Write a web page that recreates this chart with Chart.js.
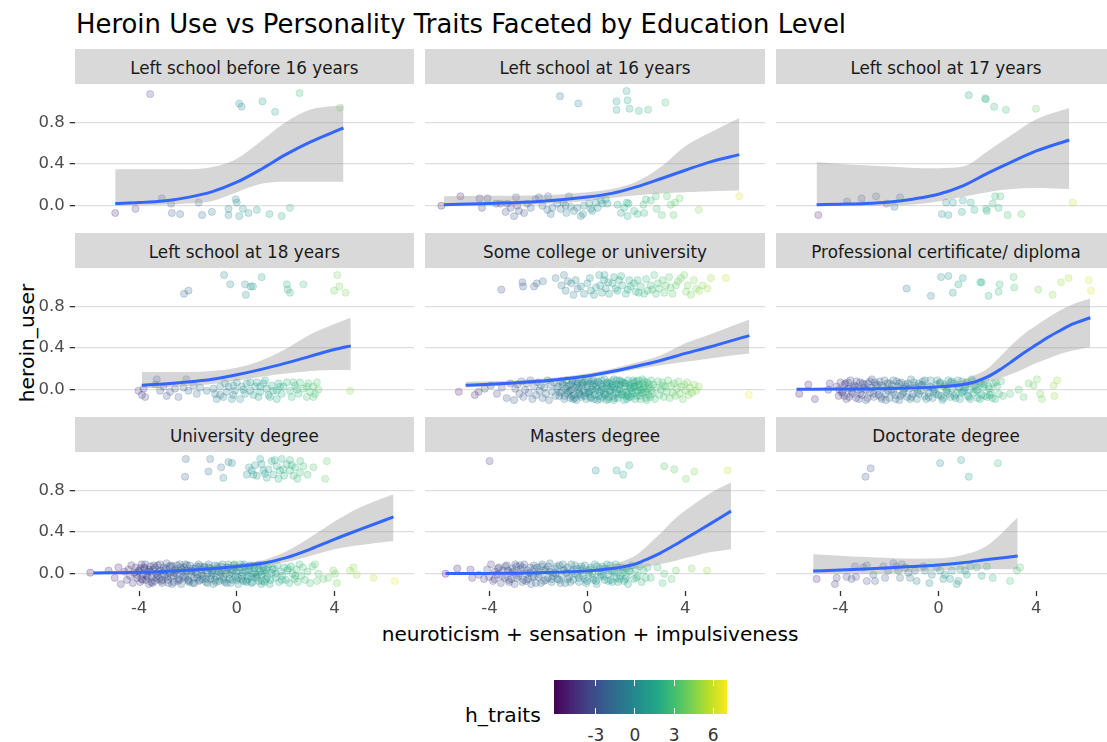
<!DOCTYPE html>
<html>
<head>
<meta charset="utf-8">
<title>Heroin Use vs Personality Traits</title>
<script src="https://cdn.jsdelivr.net/npm/chart.js@4.4.1/dist/chart.umd.min.js"></script>
<style>
  html, body { margin:0; padding:0; background:#fff; }
  body { width:1107px; height:742px; overflow:hidden; }
  #stage { position:relative; width:1107px; height:742px; overflow:hidden; font-family:"DejaVu Sans", sans-serif; }
  #stage canvas { position:absolute; }
  .txt { position:absolute; line-height:1; white-space:nowrap; }
  .strip { position:absolute; background:#d9d9d9; overflow:hidden; }
  .strip span { position:absolute; left:0; right:0; text-align:center; font-size:16.8px; line-height:1; color:#1a1a1a; white-space:nowrap; }
  .cbtick { position:absolute; width:1px; background:#fff; }
  .cblab { position:absolute; font-size:17px; line-height:1; color:#333; transform:translateX(-50%); }
</style>
</head>
<body>
<div id="stage">
  <div class="txt" style="left:76px; top:11.5px; font-size:25.9px; color:#000;">Heroin Use vs Personality Traits Faceted by Education Level</div>
  <div class="txt" style="left:590px; top:624px; font-size:20.1px; color:#000; transform:translateX(-50%);">neuroticism + sensation + impulsiveness</div>
  <div class="txt" style="left:26.5px; top:343px; font-size:20.3px; color:#000; transform:translate(-50%,-50%) rotate(-90deg);">heroin_user</div>
  <div class="txt" style="left:465px; top:704.5px; font-size:20.3px; color:#000;">h_traits</div>
  <div id="colorbar" style="position:absolute; left:554.3px; top:680px; width:172.4px; height:34px;"></div>
</div>
<script>
// ---------- facet labels, ticks, ranges ----------
const facetTitles = [
  "Left school before 16 years", "Left school at 16 years", "Left school at 17 years",
  "Left school at 18 years", "Some college or university", "Professional certificate/ diploma",
  "University degree", "Masters degree", "Doctorate degree"
];
const yTicks = [0, 0.4, 0.8];
const xTicks = [-4, 0, 4];
const colorTicks = [-3, 0, 3, 6];
const xRange = [-6.64, 7.26];
const yRange = [-0.166, 1.167];
const colorRange = [-6.19, 7.04];

// ---------- jittered observations [h_traits, heroin_user] ----------
const ptsBefore16 = [
[-3.55,1.07],[0.10,0.98],[0.20,0.95],[1.05,1.0],[1.57,0.9],[2.57,1.08],[4.23,0.94],
[-4.98,-0.07],[-4.15,-0.03],[-3.07,0.07],[-2.69,0.02],[-2.66,-0.07],[-2.32,-0.08],[-1.56,0.03],[-1.42,-0.09],[-1.02,-0.06],[-0.34,-0.03],[-0.34,-0.09],[-0.04,0.06],[0.0,0.03],[0.10,-0.1],[0.25,-0.03],[0.48,-0.07],[0.82,-0.04],[1.34,-0.08],[1.84,-0.1],[2.18,-0.02]
];
const ptsAt16 = [
[-1.12,1.05],[-0.37,0.98],[1.19,1.0],[1.19,0.92],[1.6,1.1],[1.64,1.01],[1.72,0.93],[2.1,0.91],[2.48,0.92],[3.19,0.99],
[-5.97,0.0],[-5.19,0.09],[-4.41,0.07],[-4.31,-0.02],[-4.08,0.07],[-3.73,0.02],[-3.55,0.02],[-3.34,-0.06],[-3.28,0.02],[-3.14,-0.02],[-3.0,-0.1],[-2.92,0.08],[-2.87,0.0],[-2.8,-0.05],[-2.59,-0.07],[-2.46,0.02],[-2.32,-0.02],[-2.12,0.06],[-1.98,0.08],[-1.84,0.0],[-1.64,-0.04],[-1.61,0.09],[-1.5,-0.08],[-1.43,-0.02],[-1.23,0.02],[-1.09,-0.03],[-0.98,0.03],[-0.89,0.0],[-0.86,-0.07],[-0.75,0.09],[-0.68,-0.01],[-0.55,-0.05],[-0.41,-0.02],[-0.27,-0.1],[-0.18,-0.08],[-0.14,0.0],[0.07,0.02],[0.14,-0.03],[0.2,-0.05],[0.34,0.03],[0.41,-0.02],[0.55,0.05],[0.61,0.02],[0.75,0.06],[0.82,0.02],[1.23,0.01],[1.37,-0.07],[1.5,-0.02],[1.61,0.03],[1.64,-0.1],[1.68,0.02],[1.91,-0.05],[2.05,-0.08],[2.29,0.01],[2.32,-0.07],[2.39,0.06],[2.59,0.05],[2.8,0.09],[2.83,-0.03],[3.04,-0.09],[3.25,0.09],[3.41,0.01],[3.52,-0.09],[3.58,0.03],[3.77,0.07],[4.55,-0.04],[6.21,0.09]
];
const ptsAt17 = [
[1.24,1.06],[1.91,1.03],[1.94,1.02],[2.28,0.95],[2.76,0.92],[3.99,0.93],
[-4.91,-0.09],[-3.73,0.04],[-3.14,0.07],[-2.55,0.09],[-2.12,0.02],[-1.8,-0.01],[-1.57,0.08],[0.14,-0.08],[0.41,-0.09],[0.31,0.03],[0.59,0.03],[0.96,-0.06],[1.0,0.05],[1.32,0.03],[1.47,-0.04],[1.95,-0.03],[1.98,-0.05],[2.22,0.02],[2.32,0.09],[2.53,0.09],[2.46,-0.02],[2.83,-0.09],[3.39,-0.08],[5.49,0.03]
];
const ptsAt18 = [
[-2.16,0.92],[-1.98,0.95],[-0.52,1.1],[-0.27,1.01],[0.34,1.01],[0.57,0.99],[0.66,0.99],[0.37,0.91],[1.02,1.08],[2.05,1.01],[2.09,0.96],[2.18,0.93],[2.73,1.01],[4.12,1.1],[3.99,0.95],[4.2,0.99],[4.46,0.93],
[-4.03,-0.01],[-3.89,-0.05],[-3.75,-0.07],[-3.82,0.01],[-3.28,0.1],[-3.34,0.05],[-3.14,-0.01],[-3.0,0.03],[-2.87,-0.06],[-2.73,-0.02],[-2.53,0.01],[-2.39,-0.07],[-2.18,0.02],[-2.07,0.1],[-1.98,-0.01],[-1.77,0.04],[-1.64,-0.04],[-1.5,0.02],[-1.23,-0.01],[-0.96,0.01],[-0.89,-0.04],[-0.82,-0.09],[-0.68,0.03],[-0.68,-0.05],[-0.55,-0.07],[-0.48,0.06],[-0.41,-0.02],[-0.34,0.03],[-0.2,-0.09],[-0.14,0.04],[-0.14,-0.05],[-0.07,-0.01],[0.0,0.07],[0.14,-0.09],[0.2,0.03],[0.27,0.0],[0.34,-0.04],[0.41,0.06],[0.55,-0.01],[0.55,0.07],[0.68,-0.05],[0.75,0.03],[0.82,0.07],[0.89,-0.07],[0.96,-0.02],[0.96,0.03],[1.09,0.06],[1.16,0.09],[1.23,0.01],[1.3,-0.05],[1.36,-0.07],[1.43,0.04],[1.5,-0.01],[1.64,-0.09],[1.64,-0.01],[1.71,0.06],[1.77,0.03],[1.84,-0.04],[1.91,0.03],[2.05,0.07],[2.18,-0.01],[2.25,-0.07],[2.32,0.07],[2.39,0.04],[2.46,0.0],[2.53,-0.04],[2.59,0.07],[2.73,0.01],[2.87,-0.07],[2.87,0.03],[2.93,0.06],[3.0,-0.02],[3.14,0.03],[3.14,-0.07],[3.21,-0.04],[3.28,0.07],[3.34,0.0],[4.64,-0.01]
];
const ptsCollege = [
[-3.52,0.96],[-2.66,1.03],[-2.63,0.99],[-2.18,0.99],[-2.07,1.02],[-1.82,1.04],[-1.3,1.07],[-1.06,1.0],[-0.96,1.1],[-0.89,0.95],[-0.66,1.02],[-0.57,0.91],[-0.48,1.05],[-0.27,0.99],[-0.14,0.92],[0.0,1.02],[0.14,0.95],[0.27,0.91],[0.48,1.1],[0.52,1.0],[0.68,1.05],[0.75,0.97],[0.89,0.92],[1.02,1.02],[1.09,1.08],[1.23,0.95],[1.3,1.05],[1.43,1.0],[1.57,0.92],[1.71,1.05],[1.77,0.99],[1.98,0.94],[2.05,1.05],[2.18,0.99],[2.32,0.92],[2.46,0.95],[2.59,1.0],[2.73,1.1],[2.8,0.92],[2.93,0.97],[3.07,1.05],[3.21,1.0],[3.34,1.08],[3.48,0.92],[3.62,1.0],[3.82,1.07],[3.96,1.1],[4.03,0.94],[4.23,0.91],[4.44,0.97],[4.57,0.95],[4.71,1.0],[4.91,0.97],[5.05,1.07],[5.66,1.07],
[-0.8,1.04],[-0.4,0.97],[0.1,1.07],[0.35,0.98],[0.6,0.93],[0.85,1.03],[1.15,0.97],[1.38,1.09],[1.65,0.96],[1.9,1.02],[2.1,0.93],[2.4,1.06],[2.65,0.96],[2.88,1.02],[3.15,0.93],[3.4,0.98],[3.7,1.04],[4.1,1.0],[4.35,1.05],[0.7,1.1],
[-5.26,-0.02],[-4.6,-0.05],[-4.45,-0.02],[-4.2,0.01],[-3.95,0.04],[-3.7,-0.04],[-3.5,0.02],[-3.3,-0.08],[-3.15,0.06],[-3.0,-0.1],[-2.95,0.01],
[-2.85,0.05],[-2.78,-0.04],[-2.7,0.08],[-2.62,-0.07],[-2.55,0.0],[-2.48,0.06],[-2.4,-0.03],[-2.33,0.09],[-2.25,-0.09],[-2.18,0.03],[-2.1,-0.05],[-2.03,0.07],[-1.96,-0.01],[-1.9,0.04],[-1.83,-0.08],[-1.76,0.02],[-1.7,-0.04],[-1.63,0.09],[-1.57,-0.1],[-1.5,0.05],[-1.44,-0.02],[-1.37,0.07],[-1.3,-0.06],[-1.24,0.01],
[-1.2,0.03],[-1.15,-0.06],[-1.1,0.08],[-1.05,-0.02],[-1.0,0.05],[-0.95,-0.09],[-0.9,0.01],[-0.85,0.09],[-0.8,-0.04],[-0.75,0.04],
[-0.7,-0.08],[-0.65,0.0],[-0.6,0.07],[-0.55,-0.05],[-0.5,0.02],[-0.45,-0.1],[-0.4,0.06],[-0.35,-0.03],[-0.3,0.1],[-0.25,-0.07],
[-0.2,0.04],[-0.15,-0.01],[-0.1,0.08],[-0.05,-0.09],[0.0,0.02],[0.05,-0.04],[0.1,0.06],[0.15,-0.08],[0.2,0.0],[0.25,0.09],
[0.3,-0.05],[0.35,0.03],[0.4,-0.1],[0.45,0.07],[0.5,-0.02],[0.55,0.05],[0.6,-0.07],[0.65,0.01],[0.7,0.1],[0.75,-0.04],
[0.8,0.04],[0.85,-0.09],[0.9,0.06],[0.95,-0.01],[1.0,0.08],[1.05,-0.06],[1.1,0.02],[1.15,-0.03],[1.2,0.09],[1.25,-0.08],
[1.3,0.0],[1.35,0.05],[1.4,-0.05],[1.45,0.07],[1.5,-0.1],[1.55,0.03],[1.6,-0.02],[1.65,0.09],[1.7,-0.07],[1.75,0.01],
[1.8,0.06],[1.85,-0.04],[1.9,0.03],[1.95,-0.09],[2.0,0.08],[2.05,-0.01],[2.1,0.05],[2.15,-0.06],[2.2,0.0],[2.25,0.1],
[2.3,-0.03],[2.35,0.04],[2.4,-0.08],[2.45,0.07],[2.5,-0.05],[2.55,0.02],[2.6,0.09],
[-1.12,-0.03],[-1.02,0.07],[-0.93,-0.06],[-0.83,0.03],[-0.72,-0.01],[-0.62,0.09],[-0.52,-0.08],[-0.43,0.04],[-0.33,-0.04],[-0.22,0.06],
[-0.12,-0.06],[-0.02,0.05],[0.08,-0.02],[0.17,0.08],[0.27,-0.09],[0.37,0.01],[0.47,-0.06],[0.57,0.09],[0.67,-0.03],[0.77,0.06],
[0.87,-0.07],[0.97,0.03],[1.07,-0.1],[1.17,0.05],[1.27,-0.04],[1.37,0.08],[1.47,-0.02],[1.57,0.06],[1.67,-0.05],[1.77,0.02],
[1.87,0.09],[1.97,-0.03],[2.07,0.04],[2.17,-0.09],[2.27,0.06],[2.37,-0.02],[2.47,0.01],[2.57,-0.07],
[-0.78,-0.02],[-0.68,0.05],[-0.58,-0.09],[-0.48,0.08],[-0.38,0.0],[-0.28,-0.05],[-0.18,0.07],[-0.08,-0.03],[0.02,0.09],[0.12,-0.07],
[0.22,0.04],[0.32,-0.01],[0.42,0.08],[0.52,-0.09],[0.62,0.03],[0.72,-0.05],[0.82,0.07],[0.92,-0.02],[1.02,0.05],[1.12,-0.08],
[1.22,0.01],[1.32,0.09],[1.42,-0.04],[1.52,0.06],[1.62,-0.09],[1.72,0.04],[1.82,-0.01],[1.92,0.07],[2.02,-0.06],[2.12,0.02],
[2.22,-0.03],[2.32,0.08],[2.42,-0.1],[2.52,0.05],[0.03,-0.02],[0.58,0.0],[1.08,0.1],[1.58,-0.06],[2.08,0.09],[-0.33,0.02],
[0.28,0.06],[0.78,-0.1],[1.28,0.04],[1.78,-0.07],[2.28,0.01],[-0.63,-0.06],[0.93,0.0],[1.93,0.03],[2.63,-0.01],[3.1,0.04],
[2.65,-0.04],[2.7,0.05],[2.76,-0.09],[2.82,0.02],[2.88,0.08],[2.94,-0.05],[3.0,0.0],[3.06,0.07],[3.12,-0.07],[3.18,0.03],
[3.24,-0.02],[3.3,0.09],[3.36,-0.08],[3.42,0.04],[3.48,-0.03],[3.54,0.06],[3.6,-0.06],[3.66,0.01],[3.72,0.08],[3.78,-0.04],
[3.84,0.03],[3.9,-0.09],[3.96,0.05],[4.02,-0.01],[4.08,0.07],[4.14,-0.05],[4.2,0.02],[4.28,-0.03],[4.36,0.05],[4.45,-0.01],[4.55,0.03],
[6.6,-0.05]
];
const ptsCertificate = [
[-1.3,0.97],[-0.31,0.9],[0.11,1.08],[0.41,1.09],[0.59,0.93],[0.82,1.01],[1.0,1.07],[1.71,1.03],[1.77,1.03],[2.05,0.9],[2.46,0.94],[2.5,1.01],[3.07,1.08],[3.1,0.98],[4.08,0.96],[4.67,0.91],[5.01,1.03],[5.32,1.07],[6.14,1.05],[6.24,0.95],
[-5.69,-0.04],[-5.32,0.05],[-5.05,-0.09],[-4.5,0.0],[-4.44,0.06],
[-4.16,0.03],[-4.08,-0.06],[-4.0,0.07],[-3.92,-0.02],[-3.84,0.05],[-3.76,-0.09],[-3.68,0.01],[-3.6,0.09],[-3.52,-0.04],[-3.44,0.04],
[-3.36,-0.08],[-3.28,0.0],[-3.2,0.07],[-3.12,-0.05],[-3.04,0.02],[-2.96,-0.1],[-2.88,0.06],[-2.8,-0.03],[-2.72,0.1],[-2.64,-0.07],
[-2.56,0.04],[-2.48,-0.01],[-2.4,0.08],[-2.32,-0.09],[-2.24,0.02],[-2.16,-0.04],[-2.08,0.06],[-2.0,-0.08],[-1.92,0.0],[-1.84,0.09],
[-1.76,-0.05],[-1.68,0.03],[-1.6,-0.1],[-1.52,0.07],[-1.44,-0.02],[-1.36,0.05],[-1.28,-0.07],[-1.2,0.01],[-1.12,0.1],[-1.04,-0.04],
[-0.96,0.04],[-0.88,-0.09],[-0.8,0.06],[-0.72,-0.01],[-0.64,0.08],[-0.56,-0.06],[-0.48,0.02],[-0.4,-0.03],[-0.32,0.09],[-0.24,-0.08],
[-0.16,0.0],[-0.08,0.05],[0.0,-0.05],[0.08,0.07],[0.16,-0.1],[0.24,0.03],[0.32,-0.02],[0.4,0.09],[0.48,-0.07],[0.56,0.01],
[0.64,0.06],[0.72,-0.04],[0.8,0.03],[0.88,-0.09],[0.96,0.08],[1.04,-0.01],[1.12,0.05],[1.2,-0.06],[1.28,0.0],[1.36,0.1],
[1.44,-0.03],[1.52,0.04],[1.6,-0.08],[1.68,0.07],[1.76,-0.05],[1.84,0.02],[1.92,0.09],[2.0,-0.07],[2.08,0.01],[2.16,-0.03],
[2.24,0.06],[2.32,-0.09],[2.4,0.03],[2.48,-0.04],[2.56,0.08],[2.64,-0.06],
[-3.95,-0.03],[-3.8,0.06],[-3.65,-0.07],[-3.5,0.02],[-3.35,0.08],[-3.2,-0.04],[-3.05,0.05],[-2.9,-0.08],[-2.75,0.02],[-2.6,0.07],
[-2.45,-0.05],[-2.3,0.04],[-2.15,-0.1],[-2.0,0.06],[-1.85,-0.02],[-1.7,0.08],[-1.55,-0.06],[-1.4,0.01],[-1.25,0.06],[-1.1,-0.07],
[-0.95,0.02],[-0.8,-0.04],[-0.65,0.05],[-0.5,-0.09],[-0.35,0.03],[-0.2,-0.02],[-0.05,0.09],[0.1,-0.06],[0.25,0.05],[0.4,-0.04],
[0.55,0.08],[0.7,-0.08],[0.85,0.02],[1.0,-0.02],[1.15,0.07],[1.3,-0.09],[1.45,0.04],[1.6,-0.01],[1.75,0.06],[1.9,-0.06],[2.05,0.03],[2.2,-0.08],
[-4.05,0.0],[-3.85,-0.06],[-3.7,0.07],[-3.55,-0.02],[-3.4,0.03],[-3.25,-0.09],[-3.1,0.06],[-2.95,0.0],[-2.8,0.08],[-2.65,-0.04],
[-2.5,0.05],[-2.35,-0.07],[-2.2,0.09],[-2.05,-0.01],[-1.9,0.04],[-1.75,-0.09],[-1.6,0.06],[-1.45,-0.04],[-1.3,0.03],[-1.15,-0.09],
[-1.0,0.07],[-0.85,-0.02],[-0.7,0.04],[-0.55,0.09],[-0.4,-0.07],[-0.25,0.02],[-0.1,-0.04],[0.05,0.06],[0.2,-0.08],[0.35,0.0],
[0.5,0.07],[0.65,-0.06],[0.8,0.09],[0.95,-0.03],[1.1,0.02],[1.25,-0.07],[1.4,0.08],[1.55,0.0],[1.7,-0.09],[1.85,0.05],[2.1,-0.05],[2.35,0.07],
[2.93,-0.04],[3.28,0.0],[3.48,-0.07],[3.69,0.06],[3.89,0.04],[4.03,0.1],[4.16,-0.04],[4.23,-0.09],[4.71,0.04],[4.74,-0.06],[4.85,0.09]
];
const ptsUniversity = [
[-2.09,1.1],[-2.12,0.93],[-1.09,1.1],[-1.16,0.98],[-0.64,1.02],[-0.55,0.92],[-0.34,1.07],[-0.2,1.06],[0.41,0.95],[0.61,0.99],[0.68,0.95],[0.82,0.94],[0.96,1.1],[1.02,1.05],[1.09,0.99],[1.23,0.92],[1.3,1.0],[1.43,1.08],[1.5,0.95],[1.64,1.03],[1.71,0.91],[1.77,0.99],[1.84,1.1],[1.94,0.94],[2.05,1.05],[2.18,0.99],[2.18,1.09],[2.32,0.94],[2.39,1.02],[2.48,0.91],[2.59,0.97],[2.73,1.03],[3.14,1.02],[3.62,0.91],[3.69,1.08],
[0.75,1.04],[1.15,0.96],[1.55,1.09],[1.9,1.0],[2.25,1.04],[2.6,1.08],[0.5,1.02],[2.9,0.95],
[-6.0,0.01],[-5.25,0.03],[-5.0,-0.04],[-4.85,0.06],[-4.75,-0.1],[-4.6,0.02],
[-4.5,-0.06],[-4.44,0.04],[-4.38,-0.02],[-4.32,0.08],[-4.26,-0.09],[-4.2,0.01],[-4.14,0.06],[-4.08,-0.04],[-4.02,0.03],[-3.96,-0.08],
[-3.9,0.09],[-3.84,-0.01],[-3.78,0.05],[-3.72,-0.06],[-3.66,0.02],[-3.6,-0.1],[-3.54,0.07],[-3.48,-0.03],[-3.42,0.04],[-3.36,-0.07],
[-3.3,0.0],[-3.24,0.08],[-3.18,-0.05],[-3.12,0.03],[-3.06,-0.09],[-3.0,0.06],[-2.94,-0.02],[-2.88,0.1],[-2.82,-0.06],[-2.76,0.01],
[-2.7,-0.03],[-2.64,0.07],[-2.58,-0.08],[-2.52,0.04],[-2.46,0.0],[-2.4,-0.05],[-2.34,0.09],[-2.28,-0.1],[-2.22,0.02],[-2.16,0.06],
[-2.1,-0.04],[-2.04,0.03],[-1.98,-0.07],[-1.92,0.08],[-1.86,-0.01],[-1.8,0.05],[-1.74,-0.09],[-1.68,0.01],[-1.62,-0.04],[-1.56,0.09],
[-1.5,-0.06],[-1.44,0.04],[-1.38,-0.02],[-1.32,0.07],[-1.26,-0.08],[-1.2,0.0],[-1.14,0.06],[-1.08,-0.05],[-1.02,0.02],[-0.96,-0.1],
[-0.9,0.08],[-0.84,-0.03],[-0.78,0.05],[-0.72,-0.07],[-0.66,0.01],[-0.6,0.09],[-0.54,-0.04],[-0.48,0.03],[-0.42,-0.09],[-0.36,0.06],
[-0.3,-0.01],[-0.24,0.04],[-0.18,-0.06],[-0.12,0.08],[-0.06,-0.03],[0.0,0.02],[0.06,-0.1],[0.12,0.06],[0.18,-0.05],[0.24,0.01],
[0.3,0.09],[0.36,-0.07],[0.42,0.03],[0.48,-0.02],[0.54,0.07],[0.6,-0.09],[0.66,0.0],[0.72,0.05],[0.78,-0.04],[0.84,0.08],
[0.9,-0.07],[0.96,0.02],[1.02,-0.01],[1.08,0.06],[1.14,-0.08],[1.2,0.04],[1.26,-0.03],[1.32,0.09],[1.38,-0.06],[1.44,0.01],
[-4.0,0.02],[-3.9,-0.05],[-3.8,0.06],[-3.7,-0.02],[-3.6,0.04],[-3.5,-0.08],[-3.4,0.08],[-3.3,-0.04],[-3.2,0.02],[-3.1,-0.07],
[-3.0,0.0],[-2.9,0.05],[-2.8,-0.09],[-2.7,0.08],[-2.6,-0.02],[-2.5,0.03],[-2.4,-0.07],[-2.3,0.06],[-2.2,-0.03],[-2.1,0.09],
[-2.0,-0.06],[-1.9,0.02],[-1.8,-0.09],[-1.7,0.05],[-1.6,-0.01],[-1.5,0.07],[-1.4,-0.05],[-1.3,0.03],[-1.2,-0.09],[-1.1,0.05],
[-1.0,0.0],[-0.9,-0.06],[-0.8,0.07],[-0.7,-0.02],[-0.6,0.03],[-0.5,-0.08],[-0.4,0.06],[-0.3,-0.05],[-0.2,0.01],[-0.1,0.09],
[0.0,-0.06],[0.1,0.03],[0.2,-0.02],[0.3,0.07],[0.4,-0.08],[0.5,0.04],[0.6,-0.03],[0.7,0.08],[0.8,-0.01],[0.9,0.05],
[1.0,-0.1],[1.1,0.03],[1.2,-0.05],
[-4.1,-0.01],[-3.95,0.05],[-3.85,-0.06],[-3.75,0.09],[-3.65,-0.03],[-3.55,0.02],[-3.45,-0.09],[-3.35,0.06],[-3.25,-0.02],[-3.15,0.09],
[-3.05,-0.06],[-2.95,0.03],[-2.85,-0.03],[-2.75,0.07],[-2.65,-0.1],[-2.55,0.01],[-2.45,0.08],[-2.35,-0.06],[-2.25,0.04],[-2.15,-0.02],
[-2.05,0.08],[-1.95,-0.08],[-1.85,0.03],[-1.75,-0.04],[-1.65,0.07],[-1.55,-0.07],[-1.45,0.0],[-1.35,0.06],[-1.25,-0.05],[-1.15,0.09],
[-1.05,-0.02],[-0.95,0.04],[-0.85,-0.08],[-0.75,0.02],[-0.65,0.07],[-0.55,-0.06],[-0.45,0.0],[-0.35,0.09],[-0.25,-0.09],[-0.15,0.03],
[-0.05,0.06],[0.05,-0.04],[0.15,0.09],[0.25,-0.07],[0.35,0.02],[0.45,-0.05],[0.55,0.08],[0.65,-0.08],[0.75,0.01],[0.85,-0.03],
[0.95,0.09],[1.05,-0.07],[1.15,0.0],[1.25,0.06],[1.35,-0.1],[1.45,0.04],[1.6,0.0],[1.85,-0.06],[2.1,0.05],[2.4,-0.02],
[1.52,0.05],[1.59,-0.04],[1.66,0.08],[1.73,-0.08],[1.8,0.02],[1.87,-0.02],[1.94,0.06],[2.01,-0.06],[2.08,0.03],[2.15,-0.09],
[2.22,0.07],[2.29,0.0],[2.36,-0.05],[2.43,0.04],[2.5,-0.08],[2.57,0.09],[2.64,-0.02],[2.71,0.06],[2.8,-0.06],[2.9,0.02],
[3.0,-0.09],[3.1,0.07],[3.2,0.09],[3.28,-0.07],[3.34,0.0],[3.55,-0.05],[3.75,-0.04],[3.95,0.03],[4.03,0.0],[4.1,-0.09],[4.64,0.03],[4.78,0.06],[4.91,-0.01],[5.6,-0.04],[6.48,-0.07]
];
const ptsMasters = [
[-4.0,1.08],[0.34,0.99],[1.19,0.99],[1.46,0.95],[1.71,1.04],[3.14,1.03],[3.55,1.0],[4.03,0.91],[4.37,0.98],[5.73,0.99],
[-5.8,0.0],[-5.32,0.05],[-4.78,0.04],[-4.71,-0.04],[-4.44,-0.01],[-4.23,-0.05],
[-4.1,0.04],[-4.02,-0.03],[-3.94,0.09],[-3.86,-0.07],[-3.78,0.02],[-3.7,-0.01],[-3.62,0.06],[-3.54,-0.09],[-3.46,0.03],[-3.38,-0.04],
[-3.3,0.08],[-3.22,-0.06],[-3.14,0.01],[-3.06,0.05],[-2.98,-0.1],[-2.9,0.07],[-2.82,-0.02],[-2.74,0.04],[-2.66,-0.08],[-2.58,0.09],
[-2.5,0.0],[-2.42,-0.05],[-2.34,0.06],[-2.26,-0.03],[-2.18,0.08],[-2.1,-0.09],[-2.02,0.02],[-1.94,-0.01],[-1.86,0.07],[-1.78,-0.07],
[-1.7,0.04],[-1.62,-0.04],[-1.54,0.1],[-1.46,-0.08],[-1.38,0.01],[-1.3,0.05],[-1.22,-0.05],[-1.14,0.08],[-1.06,-0.02],[-0.98,0.03],
[-0.9,-0.09],[-0.82,0.06],[-0.74,-0.03],[-0.66,0.09],[-0.58,-0.06],[-0.5,0.0],[-0.42,0.05],[-0.34,-0.08],[-0.26,0.03],[-0.18,-0.02],
[-0.1,0.08],[-0.02,-0.07],[0.06,0.01],[0.14,0.06],[0.22,-0.04],[0.3,0.09],[0.38,-0.1],[0.46,0.02],[0.54,-0.03],[0.62,0.07],
[0.7,-0.06],[0.78,0.04],[0.86,-0.01],[0.94,0.08],[1.02,-0.08],[1.1,0.03],[1.18,-0.04],[1.26,0.06],[1.34,-0.02],[1.42,0.01],
[1.5,-0.07],[1.58,0.05],[1.66,-0.1],[1.74,0.02],[1.82,0.08],[1.9,-0.05],[1.98,0.04],[2.06,-0.02],[2.14,0.07],[2.22,-0.08],
[2.3,0.03],[2.38,-0.04],[2.46,0.06],
[-3.8,-0.05],[-3.65,0.05],[-3.5,-0.02],[-3.35,0.07],[-3.2,-0.08],[-3.05,0.02],[-2.9,-0.04],[-2.75,0.08],[-2.6,-0.06],[-2.45,0.03],
[-2.3,-0.1],[-2.15,0.05],[-2.0,-0.03],[-1.85,0.09],[-1.7,-0.06],[-1.55,0.02],[-1.4,-0.02],[-1.25,0.07],[-1.1,-0.09],[-0.95,0.04],
[-0.8,-0.05],[-0.65,0.02],[-0.5,0.08],[-0.35,-0.04],[-0.2,0.05],[-0.05,-0.09],[0.1,0.04],[0.25,-0.06],[0.4,0.07],[0.55,-0.01],
[0.7,0.05],[0.85,-0.07],[1.0,0.02],[1.15,0.09],[1.3,-0.05],[1.45,0.04],[1.6,-0.03],
[-3.25,0.03],[-3.1,-0.05],[-2.95,0.09],[-2.8,0.0],[-2.65,0.06],[-2.5,-0.07],[-2.35,0.01],[-2.2,-0.03],[-2.05,0.06],[-1.9,-0.09],
[-1.75,0.03],[-1.6,0.07],[-1.45,-0.05],[-1.3,0.0],[-1.15,-0.06],[-1.0,0.09],[-0.85,0.01],[-0.7,-0.08],[-0.55,0.04],[-0.4,-0.01],
[-0.25,0.07],[-0.1,-0.05],[0.05,0.03],[0.2,0.0],[0.35,-0.07],[0.5,0.05],[0.65,-0.02],[0.8,0.09],[0.95,-0.06],[1.1,0.01],
[1.25,-0.08],[1.4,0.06],[1.55,-0.05],[1.7,0.03],[2.0,-0.04],
[2.59,-0.04],[2.87,0.06],[3.07,-0.09],[3.14,0.0],[3.44,-0.05],[3.62,0.03],[4.26,0.05],[4.89,0.03]
];
const ptsDoctorate = [
[-2.98,0.93],[-2.77,1.01],[0.07,1.06],[0.93,1.09],[1.24,0.93],[2.43,1.06],
[-4.98,-0.05],[-4.23,-0.1],[-4.16,-0.04],[-3.75,-0.03],[-3.55,-0.05],[-3.41,0.07],[-3.37,-0.03],[-3.07,0.06],[-2.93,0.08],[-2.93,-0.07],[-2.66,-0.01],[-2.59,-0.07],[-2.25,0.07],[-2.18,-0.04],[-2.05,0.03],[-1.84,0.1],[-1.73,0.07],[-1.64,0.03],[-1.57,-0.04],[-1.5,0.09],[-1.36,0.06],[-1.23,0.01],[-1.16,-0.04],[-0.96,0.03],[-0.89,-0.07],[-0.61,0.07],[-0.55,0.03],[-0.37,-0.09],[-0.27,-0.01],[-0.07,0.06],[0.07,0.03],[0.2,-0.05],[0.27,-0.01],[0.48,-0.05],[0.55,0.03],[0.75,-0.1],[0.82,-0.07],[0.89,0.04],[1.09,0.03],[1.16,-0.01],[1.3,0.07],[1.57,0.06],[1.77,-0.02],[1.98,0.07],[2.22,-0.04],[2.93,-0.07],[3.21,0.03],[3.34,0.06]
];

// ---------- fitted logistic curves with confidence band ----------
const fitXBefore16  = [-4.98, -4, -3, -2, -1, 0, 1, 2, 3, 4, 4.37];
const fitYBefore16  = [0.022, 0.03, 0.045, 0.08, 0.135, 0.225, 0.35, 0.49, 0.61, 0.71, 0.745];
const fitLoBefore16 = [0.003, 0.005, 0.01, 0.02, 0.045, 0.13, 0.21, 0.23, 0.23, 0.23, 0.23];
const fitHiBefore16 = [0.35, 0.35, 0.35, 0.35, 0.37, 0.45, 0.62, 0.80, 0.92, 0.955, 0.96];

const fitXAt16  = [-5.87, -4, -2, 0, 1, 2, 3, 4, 5, 6.21];
const fitYAt16  = [0.01, 0.022, 0.04, 0.083, 0.118, 0.18, 0.258, 0.34, 0.418, 0.49];
const fitLoAt16 = [0.0, 0.005, 0.015, 0.045, 0.075, 0.10, 0.118, 0.13, 0.138, 0.145];
const fitHiAt16 = [0.09, 0.095, 0.10, 0.13, 0.16, 0.23, 0.37, 0.57, 0.70, 0.84];

const fitXAt17  = [-4.98, -4, -3, -2, -1, 0, 1, 2, 3, 4, 5.35];
const fitYAt17  = [0.01, 0.014, 0.02, 0.035, 0.065, 0.11, 0.19, 0.31, 0.42, 0.525, 0.63];
const fitLoAt17 = [0.0, 0.0, 0.0, 0.003, 0.012, 0.04, 0.085, 0.13, 0.16, 0.17, 0.16];
const fitHiAt17 = [0.416, 0.40, 0.387, 0.375, 0.362, 0.36, 0.375, 0.52, 0.68, 0.83, 0.938];

const fitXAt18  = [-3.89, -3, -2, -1, 0, 1, 2, 3, 4, 4.67];
const fitYAt18  = [0.042, 0.055, 0.073, 0.10, 0.143, 0.195, 0.255, 0.32, 0.385, 0.42];
const fitLoAt18 = [0.015, 0.022, 0.035, 0.055, 0.085, 0.125, 0.155, 0.18, 0.19, 0.19];
const fitHiAt18 = [0.17, 0.17, 0.17, 0.18, 0.21, 0.28, 0.39, 0.53, 0.63, 0.69];

const fitXCollege  = [-4.98, -4, -3, -2, -1, 0, 1, 2, 3, 4, 5, 6.62];
const fitYCollege  = [0.042, 0.052, 0.065, 0.08, 0.103, 0.132, 0.175, 0.225, 0.28, 0.348, 0.41, 0.519];
const fitLoCollege = [0.02, 0.03, 0.045, 0.06, 0.085, 0.11, 0.15, 0.195, 0.235, 0.268, 0.30, 0.346];
const fitHiCollege = [0.075, 0.08, 0.089, 0.105, 0.125, 0.155, 0.2, 0.26, 0.33, 0.445, 0.53, 0.672];

const fitXCertificate  = [-5.8, -4, -2, 0, 1, 1.5, 2, 2.5, 3, 3.5, 4, 4.5, 5, 5.5, 6.21];
const fitYCertificate  = [0.004, 0.006, 0.012, 0.027, 0.05, 0.075, 0.122, 0.19, 0.27, 0.355, 0.43, 0.505, 0.57, 0.63, 0.69];
const fitLoCertificate = [0.0, 0.001, 0.005, 0.012, 0.025, 0.04, 0.075, 0.11, 0.15, 0.2, 0.255, 0.3, 0.345, 0.375, 0.41];
const fitHiCertificate = [0.012, 0.015, 0.022, 0.045, 0.095, 0.14, 0.2, 0.31, 0.43, 0.535, 0.615, 0.695, 0.765, 0.82, 0.874];

const fitXUniversity  = [-5.87, -4, -2, 0, 1, 2, 3, 4, 5, 6.42];
const fitYUniversity  = [0.006, 0.013, 0.033, 0.07, 0.097, 0.152, 0.234, 0.33, 0.42, 0.544];
const fitLoUniversity = [0.002, 0.007, 0.022, 0.055, 0.078, 0.11, 0.17, 0.235, 0.273, 0.314];
const fitHiUniversity = [0.02, 0.03, 0.05, 0.09, 0.125, 0.21, 0.346, 0.50, 0.63, 0.762];

const fitXMasters  = [-5.8, -4, -2, 0, 1, 1.5, 2, 2.5, 3, 3.5, 4, 4.5, 5, 5.87];
const fitYMasters  = [0.001, 0.003, 0.01, 0.027, 0.05, 0.068, 0.096, 0.145, 0.2, 0.265, 0.335, 0.405, 0.475, 0.60];
const fitLoMasters = [0.0, 0.0, 0.004, 0.015, 0.028, 0.036, 0.048, 0.07, 0.093, 0.118, 0.15, 0.178, 0.205, 0.234];
const fitHiMasters = [0.004, 0.007, 0.018, 0.04, 0.09, 0.125, 0.18, 0.28, 0.39, 0.51, 0.605, 0.69, 0.77, 0.874];

const fitXDoctorate  = [-5.12, -4, -3, -2, -1, 0, 1, 2, 3.24];
const fitYDoctorate  = [0.026, 0.035, 0.045, 0.057, 0.07, 0.083, 0.105, 0.135, 0.17];
const fitLoDoctorate = [0.0, 0.0, 0.0, 0.005, 0.018, 0.028, 0.04, 0.046, 0.042];
const fitHiDoctorate = [0.186, 0.172, 0.16, 0.15, 0.144, 0.148, 0.18, 0.27, 0.538];

const panels = [
  { pts: ptsBefore16,    fx: fitXBefore16,    fy: fitYBefore16,    lo: fitLoBefore16,    hi: fitHiBefore16 },
  { pts: ptsAt16,        fx: fitXAt16,        fy: fitYAt16,        lo: fitLoAt16,        hi: fitHiAt16 },
  { pts: ptsAt17,        fx: fitXAt17,        fy: fitYAt17,        lo: fitLoAt17,        hi: fitHiAt17 },
  { pts: ptsAt18,        fx: fitXAt18,        fy: fitYAt18,        lo: fitLoAt18,        hi: fitHiAt18 },
  { pts: ptsCollege,     fx: fitXCollege,     fy: fitYCollege,     lo: fitLoCollege,     hi: fitHiCollege },
  { pts: ptsCertificate, fx: fitXCertificate, fy: fitYCertificate, lo: fitLoCertificate, hi: fitHiCertificate },
  { pts: ptsUniversity,  fx: fitXUniversity,  fy: fitYUniversity,  lo: fitLoUniversity,  hi: fitHiUniversity },
  { pts: ptsMasters,     fx: fitXMasters,     fy: fitYMasters,     lo: fitLoMasters,     hi: fitHiMasters },
  { pts: ptsDoctorate,   fx: fitXDoctorate,   fy: fitYDoctorate,   lo: fitLoDoctorate,   hi: fitHiDoctorate }
];

// ---------- viridis colour scale ----------
const VIRIDIS = ['#440154','#482475','#414487','#355F8D','#2A788E','#21918C','#22A884','#44BF70','#7AD151','#BDDF26','#FDE725'];
function hexRgb(h) { return [parseInt(h.slice(1,3),16), parseInt(h.slice(3,5),16), parseInt(h.slice(5,7),16)]; }
function viridis(v, alpha) {
  let t = (v - colorRange[0]) / (colorRange[1] - colorRange[0]);
  t = Math.max(0, Math.min(1, t));
  const s = t * 10, i = Math.min(9, Math.floor(s)), f = s - i;
  const a = hexRgb(VIRIDIS[i]), b = hexRgb(VIRIDIS[i + 1]);
  const c = a.map((av, k) => Math.round(av + (b[k] - av) * f));
  return `rgba(${c[0]},${c[1]},${c[2]},${alpha})`;
}

// ---------- layout ----------
const stage = document.getElementById('stage');
const colLeft = [74.7, 425, 776];
const panelW = 339.5, panelH = 139, stripH = 35.3;
const rowTop = [84, 268, 452];
const yAxisW = 74.7, xAxisH = 32;
const FONT = 'DejaVu Sans';
Chart.defaults.font.family = FONT;

panels.forEach((p, idx) => {
  const r = Math.floor(idx / 3), c = idx % 3;
  const cLeft = c === 0 ? 0 : colLeft[c];
  const cWidth = c === 0 ? Math.round(colLeft[0] + panelW) : Math.round(panelW);
  const areaLeft = c === 0 ? yAxisW : cLeft;
  const areaW = c === 0 ? cWidth - yAxisW : cWidth;
  const showX = r === 2;
  const cHeight = panelH + (showX ? xAxisH : 0);

  // facet strip
  const strip = document.createElement('div');
  strip.className = 'strip';
  strip.style.left = areaLeft + 'px';
  strip.style.width = areaW + 'px';
  strip.style.top = (rowTop[r] - stripH) + 'px';
  strip.style.height = stripH + 'px';
  const lab = document.createElement('span');
  lab.textContent = facetTitles[idx];
  lab.style.top = (25.5 - 0.846 * 16.8) + 'px';
  strip.appendChild(lab);
  stage.appendChild(strip);

  // chart canvas
  const cv = document.createElement('canvas');
  cv.width = cWidth; cv.height = cHeight;
  cv.style.left = cLeft + 'px'; cv.style.top = rowTop[r] + 'px';
  cv.style.width = cWidth + 'px'; cv.style.height = cHeight + 'px';
  stage.appendChild(cv);

  const colors = p.pts.map(d => viridis(d[0], 0.22));
  const xy = (xs, ys) => xs.map((x, i) => ({ x: x, y: ys[i] }));

  new Chart(cv, {
    type: 'line',
    data: {
      datasets: [
        { data: xy(p.fx, p.fy), borderColor: '#3366FF', borderWidth: 3, pointRadius: 0, fill: false,
          cubicInterpolationMode: 'monotone' },
        { data: xy(p.fx, p.lo), borderWidth: 0, borderColor: 'rgba(0,0,0,0)', pointRadius: 0, fill: false,
          cubicInterpolationMode: 'monotone' },
        { data: xy(p.fx, p.hi), borderWidth: 0, borderColor: 'rgba(0,0,0,0)', pointRadius: 0, fill: '-1',
          backgroundColor: 'rgba(153,153,153,0.4)', cubicInterpolationMode: 'monotone' },
        { data: p.pts.map(d => ({ x: d[0], y: d[1] })), showLine: false, pointRadius: 3.6, pointBorderWidth: 1,
          pointBackgroundColor: colors, pointBorderColor: colors }
      ]
    },
    options: {
      responsive: false, maintainAspectRatio: false, animation: false, events: [],
      layout: { padding: 0, autoPadding: false },
      plugins: { legend: { display: false }, tooltip: { enabled: false } },
      scales: {
        x: {
          type: 'linear', min: xRange[0], max: xRange[1], position: 'bottom', display: showX,
          afterBuildTicks: s => { s.ticks = xTicks.map(v => ({ value: v })); },
          afterFit: s => { s.height = showX ? xAxisH : 0; s.paddingLeft = 0; s.paddingRight = 0; },
          border: { display: false },
          grid: { display: true, drawOnChartArea: false, drawTicks: true, tickLength: 5, tickColor: '#333', tickWidth: 1.3 },
          ticks: { autoSkip: false, maxRotation: 0, color: '#4d4d4d', padding: 3,
                   font: { family: FONT, size: 16.5 }, callback: v => String(v) }
        },
        y: {
          type: 'linear', min: yRange[0], max: yRange[1], position: 'left', display: true,
          afterBuildTicks: s => { s.ticks = yTicks.map(v => ({ value: v })); },
          afterFit: s => { s.width = c === 0 ? yAxisW : 0; s.paddingTop = 0; s.paddingBottom = 0; },
          border: { display: false },
          grid: { color: '#dedede', lineWidth: 1.3, drawTicks: c === 0, tickLength: 5, tickColor: '#333', tickWidth: 1.3 },
          ticks: { display: c === 0, color: '#4d4d4d', padding: 5,
                   font: { family: FONT, size: 16.5 }, callback: v => Number(v).toFixed(1) }
        }
      }
    }
  });
});

// ---------- colour bar legend ----------
const cb = document.getElementById('colorbar');
cb.style.background = 'linear-gradient(to right, ' +
  VIRIDIS.map((h, i) => `${h} ${i * 10}%`).join(', ') + ')';
const cbLeft = 554.3, cbW = 172.4, cbTop = 680, cbH = 34;
colorTicks.forEach(v => {
  const px = cbLeft + (v - colorRange[0]) / (colorRange[1] - colorRange[0]) * cbW;
  [cbTop, cbTop + cbH - 6].forEach(t => {
    const tk = document.createElement('div');
    tk.className = 'cbtick';
    tk.style.left = (px - 0.5) + 'px'; tk.style.top = t + 'px'; tk.style.height = '6px';
    stage.appendChild(tk);
  });
  const l = document.createElement('div');
  l.className = 'cblab';
  l.textContent = String(v);
  l.style.left = px + 'px';
  l.style.top = (741.5 - 0.846 * 17) + 'px';
  stage.appendChild(l);
});
</script>
</body>
</html>
